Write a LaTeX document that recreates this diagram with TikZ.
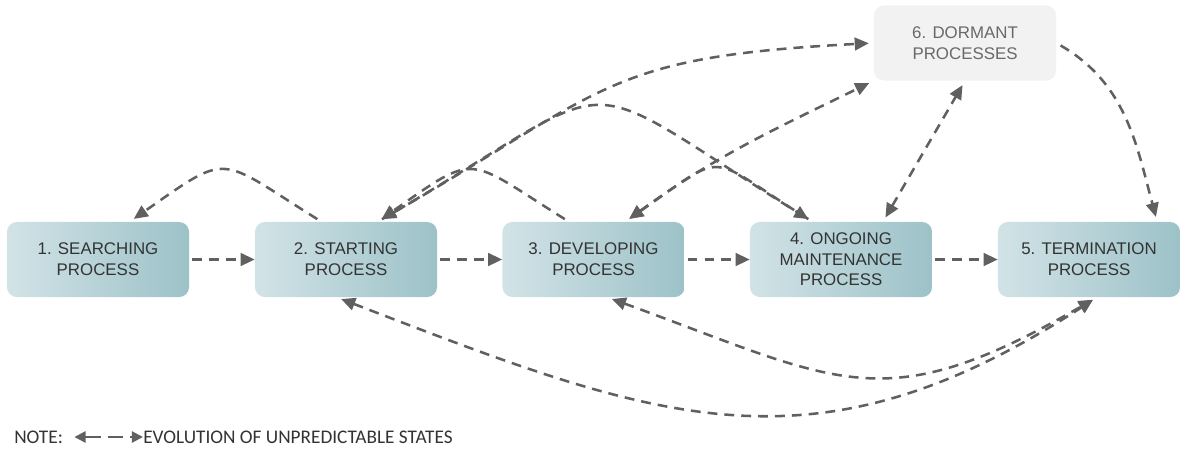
\documentclass[tikz,border=0pt]{standalone}
\usepackage{fontspec}
\setmainfont{Liberation Sans}
\newfontfamily\notefont{Carlito}
\usetikzlibrary{arrows.meta}
\definecolor{boxlight}{RGB}{210,227,231}
\definecolor{boxdark}{RGB}{156,194,200}
\definecolor{dormantfill}{RGB}{242,242,242}
\definecolor{boxtext}{RGB}{51,51,51}
\definecolor{dormanttext}{RGB}{105,105,105}
\definecolor{arrowgray}{RGB}{96,96,96}

\begin{document}
\begin{tikzpicture}[x=0.025cm, y=0.025cm,
  box/.style={rectangle, rounded corners=7pt, minimum width=4.55cm, minimum height=1.875cm, align=center, font=\fontsize{12}{14.7}\selectfont},
  stage/.style={box, left color=boxlight, right color=boxdark, text=boxtext},
  dormant/.style={box, fill=dormantfill, text=dormanttext},
  flow/.style={draw=arrowgray, line width=1.8pt, dash pattern=on 7pt off 5pt, -{Triangle[length=10pt,width=9pt]}},
  twoway/.style={flow, {Triangle[length=10pt,width=9pt]}-{Triangle[length=10pt,width=9pt]}},
  gap/.style={shorten >=3.5pt, shorten <=3.5pt},
  notetext/.style={font=\notefont\fontsize{13.7}{16}\selectfont, text=boxtext, inner sep=0pt, anchor=west}]
%% the page is fixed to the size of the reference picture
\useasboundingbox (0,0) rectangle (1181,-450);
%% the five stages sit in a row, the dormant one floats above stage 5
    \node [stage] (search) at (98,-259.5) {1. SEARCHING\\PROCESS};
    \node [stage] (start) at (346,-259.5) {2. STARTING\\PROCESS};
    \node [stage] (develop) at (593.5,-259.5) {3. DEVELOPING\\PROCESS};
    \node [stage] (ongoing) at (841,-259.5) {4. ONGOING\\MAINTENANCE\\PROCESS};
    \node [stage] (termination) at (1089,-259.5) {5. TERMINATION\\PROCESS};
    \node [dormant] (dormant) at (965,-43) {6. DORMANT\\PROCESSES};
%% straight steps from left to right
    \draw [flow, shorten <=2pt] (search.east) -- (start.west);
    \draw [flow, shorten <=2pt] (start.east) -- (develop.west);
    \draw [flow, shorten <=2pt] (develop.east) -- (ongoing.west);
    \draw [flow, shorten <=2pt] (ongoing.east) -- (termination.west);
%% small arcs going one stage back
    \draw [flow, gap] (start.123) to [out=148, in=35, looseness=1.65] (search.50);
    \draw [flow, gap] (develop.123) to [out=148, in=35, looseness=1.65] (start.50);
    \draw [flow, gap] (ongoing.127) to [out=148, in=35, looseness=1.75] (develop.50);
%% the long jumps over the top
    \draw [flow, gap] (start.50) to [out=30, in=148, looseness=1.76] (ongoing.127);
    \draw [twoway, gap] (start.50) to [out=30, in=183, looseness=1.3] (dormant.west);
    \draw [twoway, gap] (develop.50) to [out=36, in=206] (dormant.south west);
    \draw [twoway, gap] (ongoing.42) -- (dormant.south);
    \draw [flow, gap] (dormant.east) to [out=-30, in=105] (termination.29);
%% and the ones underneath
    \draw [twoway, gap] (start.-104) to [out=-21, in=213, looseness=1.15] (termination.-78);
    \draw [twoway, gap] (develop.-70) to [out=-20, in=210, looseness=1.3] (termination.-78);
%% the note at the bottom
    \node [notetext] (note) at (14,-437) {NOTE:};
    \node [notetext] (evolution) at (143,-437) {EVOLUTION OF UNPREDICTABLE STATES};
    \draw [twoway, line width=1.6pt, dash pattern=on 11pt off 5pt, {Triangle[length=8pt,width=8pt]}-{Triangle[length=8pt,width=8pt]}, shorten <=8pt] (note.east) -- (evolution.west);
%\draw[help lines] (0,0) grid[step=50] (1181,-450);
\end{tikzpicture}
\end{document}
